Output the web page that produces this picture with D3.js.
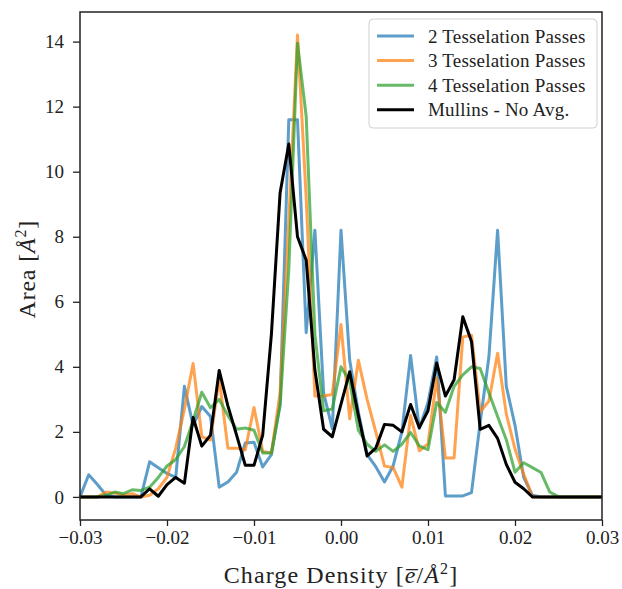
<!DOCTYPE html>
<html>
<head>
<meta charset="utf-8">
<script src="https://cdn.jsdelivr.net/npm/d3@7"></script>
<style>
  body { margin: 0; background: #fff; }
  text { font-family: "Liberation Serif", "DejaVu Serif", serif; fill: #222; }
</style>
</head>
<body>
<svg width="622" height="589"></svg>
<script>
// charge density bins (e/A^2)
var chargeDensity = [-0.030, -0.029, -0.028, -0.027, -0.026, -0.025, -0.024, -0.023, -0.022, -0.021,
  -0.020, -0.019, -0.018, -0.017, -0.016, -0.015, -0.014, -0.013, -0.012, -0.011,
  -0.010, -0.009, -0.008, -0.007, -0.006, -0.005, -0.004, -0.003, -0.002, -0.001,
  0.000, 0.001, 0.002, 0.003, 0.004, 0.005, 0.006, 0.007, 0.008, 0.009,
  0.010, 0.011, 0.012, 0.013, 0.014, 0.015, 0.016, 0.017, 0.018, 0.019,
  0.020, 0.021, 0.022, 0.023, 0.024, 0.025, 0.026, 0.027, 0.028, 0.029, 0.030];

var pass2 = [0, 0.68, 0.38, 0.05, 0, 0, 0, 0, 1.08, 0.9,
  0.72, 0.6, 3.4, 2.2, 2.78, 2.47, 0.3, 0.46, 0.76, 1.66,
  1.68, 0.92, 1.3, 2.9, 11.6, 11.6, 5.05, 8.2, 3.2, 2.1,
  8.2, 4.2, 2.6, 1.3, 0.93, 0.46, 0.96, 2.0, 4.35, 2.1,
  2.9, 4.3, 0.03, 0.03, 0.03, 0.13, 2.3, 4.3, 8.2, 3.4,
  2.2, 0.6, 0.05, 0, 0, 0, 0, 0, 0, 0, 0];

var pass3 = [0, 0, 0, 0.15, 0.12, 0.05, 0.1, 0, 0.05, 0.25,
  0.6, 1.5, 2.7, 4.1, 1.85, 1.75, 3.65, 1.5, 1.5, 1.45,
  2.75, 1.4, 1.35, 3.2, 8.5, 14.2, 9.2, 3.1, 3.1, 3.15,
  5.3, 2.4, 4.2, 3.0, 2.0, 0.95, 0.9, 0.3, 2.5, 1.42,
  1.63, 3.65, 1.2, 1.2, 4.92, 4.97, 2.62, 2.95, 4.42, 2.55,
  1.47, 0.7, 0, 0, 0, 0, 0, 0, 0, 0, 0];

var pass4 = [0, 0, 0, 0.05, 0.15, 0.1, 0.22, 0.2, 0.3, 0.6,
  0.95, 1.15, 1.55, 2.35, 3.22, 2.74, 3.0, 2.5, 2.08, 2.12,
  2.05, 1.35, 1.35, 2.8, 7.0, 13.95, 11.7, 5.0, 2.65, 2.7,
  4.0, 3.55, 2.05, 1.62, 1.4, 1.6, 1.4, 1.62, 1.98, 1.57,
  1.45, 2.9, 2.6, 3.4, 3.75, 4.0, 3.95, 3.2, 2.47, 1.76,
  0.76, 1.05, 0.9, 0.75, 0.15, 0, 0, 0, 0, 0, 0];

var mullins = [0, 0, 0, 0, 0, 0, 0, 0, 0.25, 0.02,
  0.38, 0.6, 0.42, 2.44, 1.56, 1.9, 3.89, 2.8, 1.9, 0.97,
  0.97, 1.9, 5.0, 9.35, 10.85, 8.0, 7.28, 3.9, 2.08, 1.85,
  2.85, 3.85, 2.5, 1.26, 1.5, 2.23, 2.2, 2.0, 2.84, 2.13,
  2.65, 4.12, 3.1, 3.6, 5.54, 4.78, 2.08, 2.2, 1.8, 1.0,
  0.45, 0.25, 0, 0, 0, 0, 0, 0, 0, 0, 0];

var seriesNames = ["2 Tesselation Passes", "3 Tesselation Passes", "4 Tesselation Passes", "Mullins - No Avg."];
var seriesValues = [pass2, pass3, pass4, mullins];
var colors = ["rgba(31,119,180,0.72)", "rgba(255,127,14,0.72)", "rgba(44,160,44,0.72)", "#000"];

var xTicks = [-0.03, -0.02, -0.01, 0.00, 0.01, 0.02, 0.03];
var yTicks = [0, 2, 4, 6, 8, 10, 12, 14];

var svg = d3.select("svg"),
    margin = {top: 12, right: 20, bottom: 69, left: 80},
    width = +svg.attr("width") - margin.left - margin.right,
    height = +svg.attr("height") - margin.top - margin.bottom;

var x = d3.scaleLinear().domain([-0.03, 0.03]).range([0, width]);
var y = d3.scaleLinear().domain([-0.71, 14.91]).range([height, 0]);

var g = svg.append("g").attr("transform", "translate(" + margin.left + "," + margin.top + ")");

var line = d3.line()
    .x(function(d, i) { return x(chargeDensity[i]); })
    .y(function(d) { return y(d); });

g.append("g").selectAll("path")
  .data(seriesValues)
  .enter().append("path")
    .attr("fill", "none")
    .attr("stroke", function(d, i) { return colors[i]; })
    .attr("stroke-width", 3)
    .attr("stroke-linejoin", "round")
    .attr("d", line);

// axes
var xAxis = g.append("g")
    .attr("transform", "translate(0," + height + ")")
    .call(d3.axisBottom(x).tickValues(xTicks).tickFormat(d3.format(".2f")).tickSize(6).tickPadding(5));
var yAxis = g.append("g")
    .call(d3.axisLeft(y).tickValues(yTicks).tickSize(7).tickPadding(9));

[xAxis, yAxis].forEach(function(a) {
  a.select(".domain").remove();
  a.selectAll("line").attr("stroke", "#222").attr("stroke-width", 1.3);
  a.selectAll("text").style("font-size", "19px").style("font-family", "Liberation Serif").attr("fill", "#222");
});

// frame
g.append("rect")
    .attr("width", width).attr("height", height)
    .attr("fill", "none").attr("stroke", "#222").attr("stroke-width", 1.5);

// axis labels
svg.append("text")
    .attr("x", margin.left + width / 2).attr("y", 583)
    .attr("text-anchor", "middle")
    .style("font-size", "24px")
    .style("letter-spacing", "1.1px")
    .html('Charge Density [<tspan font-style="italic">e\u0305</tspan>/<tspan font-style="italic">Å</tspan><tspan dy="-9" font-size="16px">2</tspan><tspan dy="9">]</tspan>');

svg.append("text")
    .attr("transform", "translate(35," + (margin.top + y(7)) + ") rotate(-90)")
    .attr("text-anchor", "middle")
    .style("font-size", "24px")
    .style("letter-spacing", "0.8px")
    .html('Area [<tspan font-style="italic">Å</tspan><tspan dy="-9" font-size="16px">2</tspan><tspan dy="9">]</tspan>');

// legend
var legend = svg.append("g");
legend.append("rect")
    .attr("x", 369).attr("y", 19).attr("width", 228).attr("height", 109)
    .attr("rx", 4)
    .attr("fill", "rgba(255,255,255,0.85)")
    .attr("stroke", "#d0d0d0").attr("stroke-width", 1);

var item = legend.selectAll(".item")
  .data(seriesNames)
  .enter().append("g")
    .attr("transform", function(d, i) { return "translate(0," + (36 + i * 24.6) + ")"; });

item.append("line")
    .attr("x1", 377).attr("x2", 414)
    .attr("stroke", function(d, i) { return colors[i]; })
    .attr("stroke-width", 3);

item.append("text")
    .attr("x", 428).attr("dy", "0.35em")
    .style("font-size", "19px")
    .style("letter-spacing", "0.2px")
    .text(function(d) { return d; });
</script>
</body>
</html>
